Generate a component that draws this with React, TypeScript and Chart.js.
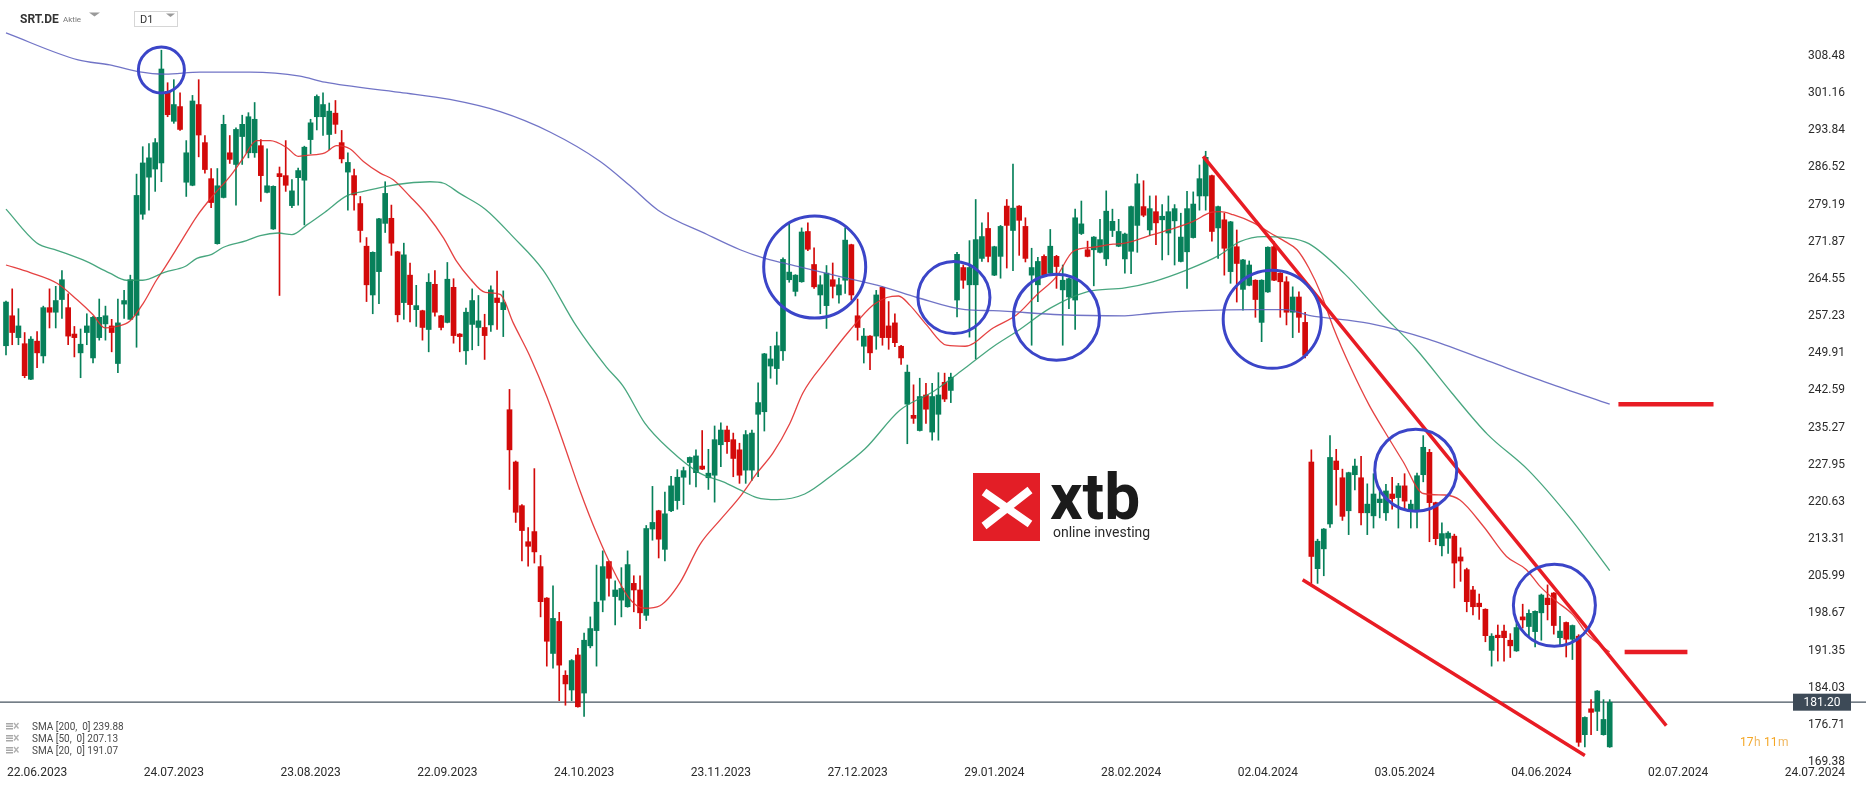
import React, { useEffect, useRef } from 'react';
import { Chart, registerables } from 'chart.js';

Chart.register(...registerables);

// ---- OHLC (daily candles, index 0 = 15.06.2023) ----
const opens = [
  251.4, 257.3, 253.0, 251.8, 244.8, 252.3, 249.4, 258.9, 258.0, 260.5,
  258.9, 253.7, 250.0, 254.0, 249.0, 253.0, 255.7, 255.3, 247.9, 259.6,
  256.6, 257.4, 277.3, 284.6, 286.2, 287.4, 301.5, 295.6, 298.5, 283.6,
  283.0, 298.9, 291.4, 284.3, 271.5, 280.6, 289.4, 287.1, 292.6, 289.4,
  289.4, 290.8, 281.6, 274.4, 285.3, 284.9, 279.0, 284.5, 284.0, 292.0,
  296.5, 296.5, 293.0, 297.2, 291.4, 285.6, 284.9, 279.4, 271.0, 261.4,
  266.0, 275.5, 276.5, 269.9, 259.9, 265.3, 258.5, 258.3, 254.6, 263.5,
  257.3, 256.0, 262.9, 253.7, 250.4, 255.6, 255.0, 255.0, 255.5, 260.8,
  258.5, 238.8, 228.5, 219.9, 212.8, 214.8, 207.9, 201.7, 190.8, 197.1,
  186.5, 183.6, 190.5, 183.0, 192.3, 195.3, 201.3, 208.9, 202.0, 201.3,
  200.0, 204.6, 203.3, 198.3, 215.3, 218.9, 211.3, 218.9, 220.9, 225.5,
  228.4, 226.4, 227.7, 225.4, 225.9, 231.9, 234.8, 232.9, 230.9, 226.9,
  226.9, 237.9, 238.4, 247.4, 246.9, 250.4, 264.4, 262.1, 264.0, 273.9,
  267.4, 261.4, 259.3, 264.4, 261.4, 264.3, 271.3, 257.3, 251.3, 253.3,
  253.3, 262.9, 255.3, 255.9, 251.3, 239.9, 237.7, 234.7, 241.7, 234.4,
  237.9, 244.2, 242.6, 260.4, 266.8, 263.4, 263.4, 268.6, 274.5, 265.3,
  269.0, 278.9, 274.1, 278.9, 274.9, 265.3, 263.4, 269.0, 265.7, 269.0,
  262.4, 261.0, 260.4, 273.5, 270.3, 270.3, 269.8, 268.5, 274.1, 271.0,
  268.5, 270.0, 275.1, 278.8, 274.2, 277.8, 276.2, 273.6, 276.0, 268.0,
  269.9, 272.7, 280.9, 280.9, 284.9, 274.6, 276.2, 266.0, 270.9, 262.5,
  263.3, 264.3, 256.0, 262.0, 270.9, 265.7, 264.0, 258.0, 261.0, 256.0,
  228.5, 207.5, 211.4, 216.3, 228.7, 225.4, 218.9, 226.0, 225.4, 218.5,
  217.9, 220.5, 218.5, 222.2, 221.5, 223.8, 218.8, 218.8, 226.0, 230.4,
  220.5, 212.0, 213.5, 213.9, 209.8, 207.3, 203.3, 200.7, 199.5, 191.4,
  194.4, 195.2, 193.4, 191.3, 198.0, 196.1, 195.1, 198.8, 201.7, 202.7,
  193.9, 196.9, 193.6, 194.2, 174.8, 179.9, 179.4, 174.8, 172.4,
];
const highs = [
  260.2, 262.6, 258.7, 254.0, 253.2, 254.2, 259.2, 262.6, 263.1, 266.2,
  261.6, 255.2, 254.7, 257.7, 257.2, 260.6, 259.2, 256.6, 260.6, 262.3,
  265.3, 285.2, 290.6, 291.2, 292.2, 309.6, 303.2, 303.8, 301.2, 291.8,
  300.7, 303.8, 292.8, 286.3, 286.3, 296.8, 292.8, 294.3, 296.8, 297.3,
  299.3, 292.0, 290.2, 282.9, 286.6, 291.8, 284.1, 286.4, 290.7, 296.0,
  300.8, 301.2, 299.2, 299.7, 293.8, 289.4, 286.2, 280.8, 272.7, 269.9,
  276.5, 283.7, 279.1, 270.0, 271.6, 267.7, 263.3, 258.4, 265.6, 266.2,
  257.4, 267.8, 264.6, 253.8, 258.8, 262.6, 261.3, 257.6, 263.2, 266.1,
  262.2, 242.8, 228.7, 220.1, 215.6, 227.2, 210.1, 201.8, 204.1, 198.9,
  187.4, 189.6, 191.8, 194.8, 198.0, 208.2, 211.0, 209.0, 205.1, 207.7,
  211.0, 206.1, 206.1, 216.0, 223.7, 219.0, 222.6, 225.7, 227.0, 227.5,
  229.5, 230.9, 234.7, 231.0, 235.6, 236.2, 235.6, 234.2, 232.2, 234.7,
  234.8, 244.1, 249.9, 251.3, 254.1, 268.7, 275.6, 265.4, 274.6, 275.6,
  270.7, 265.2, 267.2, 267.7, 264.7, 274.6, 271.4, 260.6, 254.8, 253.4,
  262.3, 263.0, 260.1, 257.7, 251.5, 247.6, 243.7, 245.0, 244.0, 244.0,
  246.1, 246.0, 246.0, 269.8, 267.3, 272.1, 280.2, 275.6, 277.6, 271.0,
  275.1, 280.2, 287.2, 279.0, 276.6, 270.6, 268.8, 269.3, 274.3, 269.2,
  267.3, 264.7, 278.3, 279.9, 272.0, 272.9, 276.3, 281.9, 278.3, 276.3,
  273.6, 278.9, 285.2, 283.9, 280.9, 280.9, 279.2, 280.9, 279.2, 277.5,
  281.8, 281.7, 287.0, 289.7, 285.0, 278.9, 277.5, 275.9, 274.2, 268.4,
  268.1, 264.4, 264.4, 270.9, 271.9, 265.8, 265.0, 263.0, 262.0, 258.0,
  230.9, 213.3, 215.4, 233.7, 231.0, 227.1, 226.5, 229.1, 229.6, 224.2,
  226.2, 222.7, 224.1, 225.5, 224.3, 226.2, 221.0, 226.3, 233.7, 231.0,
  220.6, 216.5, 214.8, 214.3, 211.6, 207.6, 204.0, 202.5, 199.6, 194.7,
  196.4, 196.4, 194.7, 196.7, 200.5, 199.4, 199.2, 202.5, 204.3, 202.8,
  198.1, 197.0, 196.4, 194.5, 178.3, 181.7, 183.5, 181.7, 181.7,
];
const lows = [
  249.6, 251.6, 251.6, 245.1, 244.7, 247.1, 248.0, 254.9, 254.9, 256.8,
  251.6, 249.2, 245.1, 251.6, 248.0, 252.5, 252.5, 250.2, 246.1, 256.8,
  256.6, 251.1, 276.3, 278.1, 281.8, 283.7, 296.5, 295.2, 293.8, 280.8,
  282.9, 288.6, 285.4, 278.6, 271.4, 280.5, 287.3, 279.1, 287.1, 288.4,
  288.5, 279.8, 281.5, 274.3, 261.3, 281.8, 278.6, 279.1, 275.2, 289.2,
  293.9, 292.8, 290.0, 293.2, 287.4, 278.1, 278.1, 271.8, 260.1, 257.7,
  259.7, 273.7, 269.2, 256.1, 256.6, 256.1, 255.2, 252.5, 250.2, 257.2,
  254.5, 255.9, 251.9, 250.2, 247.7, 250.6, 251.4, 248.7, 254.2, 254.6,
  253.2, 223.1, 216.6, 209.0, 208.0, 208.6, 198.0, 188.3, 187.9, 181.5,
  180.6, 181.5, 180.2, 178.4, 191.9, 188.3, 199.0, 202.1, 196.4, 198.0,
  199.9, 199.0, 195.7, 197.3, 213.1, 209.6, 209.0, 218.7, 219.2, 220.1,
  224.1, 223.6, 227.0, 223.1, 220.6, 227.6, 230.2, 225.6, 224.3, 224.3,
  224.9, 225.6, 234.6, 245.0, 243.8, 248.5, 263.9, 261.2, 263.9, 270.1,
  262.7, 257.7, 254.8, 260.8, 259.8, 261.7, 260.4, 252.5, 248.0, 246.7,
  250.7, 251.5, 250.7, 251.2, 247.7, 232.1, 236.1, 234.6, 236.1, 232.8,
  232.8, 240.4, 240.2, 257.1, 262.7, 253.1, 248.8, 268.0, 267.9, 265.2,
  264.7, 266.7, 266.2, 269.2, 267.9, 251.5, 260.1, 265.0, 265.3, 262.7,
  251.5, 258.7, 254.6, 273.3, 268.9, 263.2, 269.7, 267.2, 272.9, 270.9,
  265.7, 265.6, 269.8, 276.8, 273.1, 271.3, 268.3, 269.3, 267.3, 267.9,
  262.7, 272.6, 278.1, 278.1, 272.0, 268.6, 265.3, 263.7, 260.0, 258.4,
  263.2, 257.0, 252.2, 261.9, 264.2, 257.0, 255.5, 253.0, 254.0, 249.0,
  204.6, 204.6, 206.1, 215.6, 220.0, 217.0, 214.2, 223.0, 216.1, 214.2,
  215.5, 217.5, 217.0, 219.2, 215.5, 219.3, 215.5, 215.5, 224.6, 212.8,
  212.2, 210.0, 210.5, 203.7, 205.0, 199.0, 198.4, 197.5, 193.1, 188.3,
  189.3, 189.3, 190.0, 191.2, 195.8, 194.1, 192.1, 193.4, 197.4, 194.6,
  192.4, 190.1, 189.6, 172.5, 172.4, 174.8, 175.6, 174.7, 172.3,
];
const closes = [
  260.0, 254.0, 255.3, 245.5, 252.7, 250.0, 258.9, 258.0, 260.3, 264.4,
  253.3, 253.0, 251.7, 255.3, 257.0, 257.0, 257.3, 254.0, 255.9, 260.3,
  264.4, 281.0, 287.4, 288.4, 291.4, 305.9, 296.9, 298.9, 294.0, 289.4,
  299.6, 292.9, 286.1, 279.6, 282.9, 295.0, 288.1, 294.0, 295.0, 296.5,
  296.0, 284.9, 282.9, 282.8, 284.7, 283.0, 281.9, 285.9, 290.5, 295.3,
  300.5, 298.9, 297.6, 295.0, 288.2, 287.5, 281.1, 274.1, 263.4, 269.8,
  276.4, 281.4, 271.6, 257.5, 269.3, 259.5, 259.3, 255.0, 263.9, 258.0,
  255.0, 264.5, 253.4, 253.2, 258.0, 260.3, 256.3, 253.4, 262.4, 259.9,
  259.9, 230.9, 218.6, 215.0, 211.9, 210.8, 201.0, 193.2, 197.7, 188.5,
  184.8, 189.4, 180.3, 193.4, 195.7, 200.9, 207.9, 205.6, 203.3, 203.6,
  208.3, 203.3, 198.8, 215.4, 216.6, 213.3, 218.3, 223.8, 225.5, 226.8,
  229.4, 229.7, 227.1, 226.3, 232.9, 234.8, 232.5, 229.2, 225.9, 233.9,
  234.2, 240.2, 249.8, 248.8, 251.4, 268.4, 265.9, 265.3, 273.8, 270.4,
  263.0, 263.4, 265.7, 263.1, 263.4, 272.2, 261.4, 255.0, 253.3, 250.0,
  261.4, 253.0, 253.0, 252.0, 249.0, 246.2, 237.1, 241.4, 238.9, 241.4,
  241.7, 240.9, 245.2, 269.4, 264.3, 266.8, 272.3, 272.9, 269.0, 270.9,
  274.9, 275.1, 278.5, 276.1, 268.6, 266.8, 268.0, 265.3, 271.0, 267.0,
  264.3, 264.6, 276.6, 275.4, 269.0, 272.8, 272.3, 277.9, 275.9, 273.9,
  273.4, 278.8, 283.3, 277.1, 278.4, 275.6, 276.9, 277.8, 278.4, 272.8,
  278.4, 279.3, 284.3, 288.5, 273.9, 278.8, 270.6, 275.8, 267.6, 268.3,
  267.3, 260.5, 264.3, 270.8, 264.3, 264.0, 258.0, 261.0, 257.0, 249.5,
  209.9, 212.9, 215.3, 229.4, 227.0, 217.8, 226.4, 227.7, 218.5, 220.2,
  222.2, 221.2, 222.8, 221.3, 223.8, 220.8, 220.2, 225.8, 231.4, 220.5,
  213.4, 214.4, 214.5, 208.6, 209.0, 201.0, 200.0, 200.0, 194.3, 194.2,
  193.9, 193.9, 192.3, 195.9, 197.4, 198.7, 199.1, 202.3, 200.4, 196.3,
  195.2, 193.6, 196.3, 173.3, 178.2, 179.2, 183.4, 177.8, 181.2,
];

// ---- moving averages as [candle index, value] ----
const sma200 = [
  [0, 313.0], [11.6, 307.7], [16.7, 306.7], [21.2, 305.4], [25.6, 304.9], [31.2, 305.3],
  [39.3, 305.3], [47.3, 304.5], [51.3, 303.3], [63.4, 301.3], [71.4, 299.9], [79.5, 297.5],
  [87.5, 293.5], [95.6, 287.7], [100.4, 282.9], [104.9, 278.1], [112.8, 273.3], [118.1, 270.3],
  [121.8, 268.7], [125.0, 267.7], [128.5, 266.7], [134.2, 265.0], [141.1, 263.0], [146.6, 260.9],
  [154.3, 258.5], [158.8, 258.3], [169.6, 257.5], [180.0, 257.3], [184.5, 257.8], [192.1, 258.3],
  [200.6, 258.5], [205.8, 258.5], [209.6, 257.4], [219.3, 255.8], [228.8, 252.7], [238.4, 248.4],
  [248.0, 244.1], [258, 239.88],
];
const sma50 = [
  [0, 278.3], [4.9, 271.7], [8.2, 270.2], [12.4, 268.3], [16.7, 265.7], [19.4, 264.3],
  [22.0, 264.3], [25.6, 265.9], [28.8, 267.0], [30.7, 268.6], [33.1, 269.4], [35.0, 270.8],
  [38.7, 272.1], [40.9, 273.1], [43.8, 273.6], [46.0, 273.3], [48.4, 275.2], [51.3, 277.7],
  [54.8, 280.9], [57.5, 281.8], [61.2, 282.8], [64.5, 283.4], [68.2, 283.7], [70.4, 283.4],
  [73.0, 281.4], [77.1, 278.3], [81.7, 272.7], [86.4, 266.3], [91.8, 255.2], [96.6, 247.2],
  [99.3, 243.4], [102.8, 236.1], [106.8, 230.9], [111.6, 226.3], [115.4, 224.6], [118.1, 223.0],
  [120.8, 221.5], [124.0, 221.1], [128.5, 222.2], [133.4, 226.4], [138.2, 231.1], [143.8, 238.7],
  [149.2, 242.4], [154.3, 247.0], [158.8, 251.2], [162.6, 254.2], [168.0, 258.8], [173.9, 262.0],
  [180.0, 262.8], [184.5, 264.0], [189.9, 266.3], [195.3, 269.3], [198.5, 271.9], [202.3, 272.9],
  [205.8, 272.7], [209.6, 271.5], [215.4, 265.5], [221.0, 258.1], [226.8, 250.8], [232.6, 242.1],
  [238.3, 234.0], [244.9, 226.9], [251.6, 217.5], [258, 207.13],
];
const sma20 = [
  [0, 267.3], [3.9, 265.8], [8.2, 263.7], [11.4, 260.5], [14.0, 257.5], [15.9, 254.9],
  [17.8, 255.2], [19.9, 256.2], [22.1, 259.8], [24.2, 264.3], [25.6, 266.9], [28.0, 271.6],
  [30.7, 276.9], [33.4, 281.1], [36.0, 284.7], [38.2, 288.4], [40.3, 291.8], [42.5, 291.8],
  [45.2, 290.4], [47.0, 288.7], [48.4, 288.9], [51.3, 289.4], [53.2, 290.8], [55.3, 290.2],
  [57.5, 287.7], [60.2, 285.4], [62.3, 284.1], [65.0, 280.8], [67.7, 277.2], [70.4, 272.6],
  [72.5, 268.0], [74.6, 264.7], [77.1, 261.9], [79.5, 261.5], [81.6, 255.9], [84.3, 249.3],
  [87.0, 241.4], [89.7, 232.2], [92.3, 223.0], [95.0, 214.5], [97.7, 207.2], [99.9, 202.3],
  [101.5, 200.2], [102.8, 199.7], [105.2, 200.2], [108.4, 204.7], [111.6, 212.2], [114.9, 217.1],
  [118.1, 221.7], [120.8, 226.3], [123.4, 230.3], [126.1, 236.1], [128.2, 242.1], [132.0, 248.6],
  [135.8, 254.5], [139.5, 259.4], [141.7, 260.9], [143.6, 261.2], [145.4, 259.4], [148.1, 255.5],
  [151.3, 251.5], [154.3, 251.3], [158.8, 254.9], [162.6, 257.5], [165.8, 261.4], [169.0, 265.0],
  [171.7, 270.0], [174.9, 270.8], [178.1, 271.4], [180.0, 271.6], [184.5, 273.3], [187.3, 274.3],
  [191.0, 275.9], [193.7, 277.6], [195.3, 277.8], [197.4, 277.2], [200.7, 275.6], [203.4, 273.6],
  [205.8, 271.9], [207.7, 270.3], [209.6, 266.7], [211.6, 261.5], [213.5, 255.1], [216.4, 246.9],
  [219.3, 239.7], [221.6, 234.9], [224.7, 228.7], [228.0, 222.3], [231.5, 222.0], [233.9, 221.0],
  [237.7, 215.8], [241.4, 209.9], [244.6, 207.3], [246.8, 204.0], [249.5, 201.0], [252.1, 198.4],
  [254.3, 194.7], [258, 191.07],
];

// ---- drawings ----
const circleMarks = [
  [25.0, 305.7, 23], [130.1, 266.9, 51], [152.5, 260.9, 36], [169.0, 257.0, 43],
  [203.7, 256.6, 49], [226.8, 226.9, 41], [249.1, 200.3, 41],
];
const upperTrend = [[192.6, 288.7], [267.1, 176.6]];
const lowerTrend = [[208.6, 205.3], [254.0, 170.7]];
const levelSma200 = [[259.4, 239.88], [274.7, 239.88]];
const levelSma20 = [[260.4, 191.07], [270.5, 191.07]];
const lastPrice = 181.2;

// ---- axis texts ----
const yTicks = [308.48, 301.16, 293.84, 286.52, 279.19, 271.87, 264.55, 257.23, 249.91, 242.59,
  235.27, 227.95, 220.63, 213.31, 205.99, 198.67, 191.35, 184.03, 176.71, 169.38];
const xTickIdx = [5, 27, 49, 71, 93, 115, 137, 159, 181, 203, 225, 247, 269, 291];
const xTickLabels = ['22.06.2023', '24.07.2023', '23.08.2023', '22.09.2023', '24.10.2023',
  '23.11.2023', '27.12.2023', '29.01.2024', '28.02.2024', '02.04.2024', '03.05.2024',
  '04.06.2024', '02.07.2024', '24.07.2024'];
const legendRows = ['SMA [200,  0] 239.88', 'SMA [50,  0] 207.13', 'SMA [20,  0] 191.07'];

const GREEN = '#07805a';
const RED = '#d30a0a';
const FONT = 'Roboto, "Liberation Sans", Arial, sans-serif';

const overlayPlugin = {
  id: 'overlay',
  beforeDatasetsDraw(chart: any) {
    const ctx = chart.ctx;
    ctx.save();
    // logo
    ctx.fillStyle = '#e31e26';
    ctx.fillRect(973, 473, 67, 68);
    ctx.strokeStyle = '#ffffff';
    ctx.lineWidth = 8;
    ctx.lineCap = 'butt';
    ctx.beginPath();
    ctx.moveTo(984, 492); ctx.lineTo(1030, 524);
    ctx.moveTo(984, 526); ctx.lineTo(1030, 490);
    ctx.stroke();
    ctx.fillStyle = '#1b1b1b';
    ctx.font = `bold 64px ${FONT}`;
    ctx.textAlign = 'left';
    ctx.textBaseline = 'alphabetic';
    ctx.fillText('xtb', 1050, 519);
    ctx.font = `14px ${FONT}`;
    ctx.fillStyle = '#2a2a2a';
    ctx.fillText('online investing', 1053, 537);
    ctx.restore();
  },
  afterDraw(chart: any) {
    const { ctx, scales } = chart;
    const x = scales.x;
    const y = scales.y;
    ctx.save();
    ctx.font = `12px ${FONT}`;
    ctx.fillStyle = '#2b2b2b';
    ctx.textAlign = 'right';
    ctx.textBaseline = 'middle';
    yTicks.forEach((v) => ctx.fillText(v.toFixed(2), 1845, y.getPixelForValue(v)));
    ctx.textAlign = 'center';
    xTickIdx.forEach((i, k) => ctx.fillText(xTickLabels[k], x.getPixelForValue(i), 773));

    // last price box
    const py = y.getPixelForValue(lastPrice);
    ctx.fillStyle = '#3d4a57';
    ctx.fillRect(1793, py - 8.5, 58, 17);
    ctx.fillStyle = '#ffffff';
    ctx.textAlign = 'center';
    ctx.fillText(lastPrice.toFixed(2), 1822, py + 0.5);

    // countdown
    ctx.textAlign = 'left';
    ctx.font = `12px ${FONT}`;
    ctx.fillStyle = '#f5a623';
    ctx.fillText('17', 1740, 743);
    ctx.fillStyle = '#f0b860';
    ctx.fillText('h', 1754, 743);
    ctx.fillStyle = '#f5a623';
    ctx.fillText('11', 1764, 743);
    ctx.fillStyle = '#f0b860';
    ctx.fillText('m', 1778, 743);

    // header
    ctx.textBaseline = 'alphabetic';
    ctx.fillStyle = '#333333';
    ctx.font = `bold 12px ${FONT}`;
    ctx.fillText('SRT.DE', 20, 23);
    ctx.font = `8px ${FONT}`;
    ctx.fillStyle = '#777777';
    ctx.fillText('Aktie', 63, 22);
    ctx.fillStyle = '#9a9a9a';
    ctx.beginPath();
    ctx.moveTo(89, 12.5); ctx.lineTo(100, 12.5); ctx.lineTo(94.5, 16.5); ctx.closePath();
    ctx.fill();
    ctx.strokeStyle = '#d6d6d6';
    ctx.lineWidth = 1;
    ctx.strokeRect(134.5, 11.5, 43, 15);
    ctx.fillStyle = '#333333';
    ctx.font = `11px ${FONT}`;
    ctx.fillText('D1', 140, 23);
    ctx.fillStyle = '#9a9a9a';
    ctx.beginPath();
    ctx.moveTo(166, 13.5); ctx.lineTo(175, 13.5); ctx.lineTo(170.5, 17); ctx.closePath();
    ctx.fill();

    // legend rows
    legendRows.forEach((t, k) => {
      const by = 730 + k * 12;
      ctx.fillStyle = '#a8a8a8';
      ctx.fillRect(6, by - 7, 7, 1.5);
      ctx.fillRect(6, by - 4.5, 7, 1.5);
      ctx.fillRect(6, by - 2, 7, 1.5);
      ctx.strokeStyle = '#b0b0b0';
      ctx.lineWidth = 1.3;
      ctx.beginPath();
      ctx.moveTo(14, by - 7); ctx.lineTo(18.5, by - 1.5);
      ctx.moveTo(18.5, by - 7); ctx.lineTo(14, by - 1.5);
      ctx.stroke();
      ctx.fillStyle = '#4a4a4a';
      ctx.font = `10px ${FONT}`;
      ctx.fillText(t, 32, by);
    });
    ctx.restore();
  },
};

const toPts = (arr: number[][]) => arr.map(([a, b]) => ({ x: a, y: b }));

export default function App() {
  const ref = useRef<HTMLCanvasElement | null>(null);
  useEffect(() => {
    document.body.style.margin = '0';
    document.body.style.overflow = 'hidden';
    const canvas = ref.current;
    if (!canvas) return;
    const colors = opens.map((o, i) => (closes[i] >= o ? GREEN : RED));
    const chart = new Chart(canvas, {
      type: 'bar',
      data: {
        datasets: [
          {
            type: 'bubble',
            data: circleMarks.map(([a, b, r]) => ({ x: a, y: b, r })),
            backgroundColor: 'rgba(0,0,0,0)',
            borderColor: '#3b45c8',
            borderWidth: 3,
            order: 0,
          } as any,
          {
            type: 'line', data: toPts(upperTrend), borderColor: '#e81c24', borderWidth: 3.5,
            pointRadius: 0, order: 1,
          },
          {
            type: 'line', data: toPts(lowerTrend), borderColor: '#e81c24', borderWidth: 3.5,
            pointRadius: 0, order: 1,
          },
          {
            type: 'line', data: toPts(levelSma200), borderColor: '#e81c24', borderWidth: 4.5,
            pointRadius: 0, order: 1,
          },
          {
            type: 'line', data: toPts(levelSma20), borderColor: '#e81c24', borderWidth: 4.5,
            pointRadius: 0, order: 1,
          },
          {
            type: 'line', data: toPts(sma200), borderColor: 'rgba(88,92,188,0.85)', borderWidth: 1.3,
            pointRadius: 0, cubicInterpolationMode: 'monotone', order: 2,
          },
          {
            type: 'line', data: toPts(sma50), borderColor: 'rgba(40,150,105,0.85)', borderWidth: 1.3,
            pointRadius: 0, cubicInterpolationMode: 'monotone', order: 2,
          },
          {
            type: 'line', data: toPts(sma20), borderColor: 'rgba(226,45,45,0.9)', borderWidth: 1.3,
            pointRadius: 0, cubicInterpolationMode: 'monotone', order: 2,
          },
          {
            type: 'bar',
            data: opens.map((o, i) => ({ x: i, y: [Math.min(o, closes[i]), Math.max(o, closes[i])] })),
            backgroundColor: colors,
            borderWidth: 0,
            barThickness: 5,
            grouped: false,
            minBarLength: 1,
            order: 3,
          } as any,
          {
            type: 'bar',
            data: highs.map((h, i) => ({ x: i, y: [lows[i], h] })),
            backgroundColor: colors,
            borderWidth: 0,
            barThickness: 1,
            grouped: false,
            order: 4,
          } as any,
          {
            type: 'line',
            data: [{ x: -1, y: lastPrice }, { x: 300, y: lastPrice }],
            borderColor: '#46535f',
            borderWidth: 1.2,
            pointRadius: 0,
            order: 5,
          },
        ],
      },
      options: {
        animation: false,
        responsive: false,
        events: [],
        layout: { autoPadding: false, padding: { left: 0, right: 0, top: 0, bottom: 22 } },
        plugins: { legend: { display: false }, tooltip: { enabled: false } },
        scales: {
          x: { type: 'linear', min: -0.965, max: 299.23, display: false, offset: false },
          y: { type: 'linear', min: 168.83, max: 319.49, display: false },
        },
      } as any,
      plugins: [overlayPlugin],
    });
    return () => chart.destroy();
  }, []);
  return (
    <div style={{ width: 1866, height: 787, background: '#ffffff' }}>
      <canvas ref={ref} width={1866} height={787} style={{ display: 'block' }} />
    </div>
  );
}
